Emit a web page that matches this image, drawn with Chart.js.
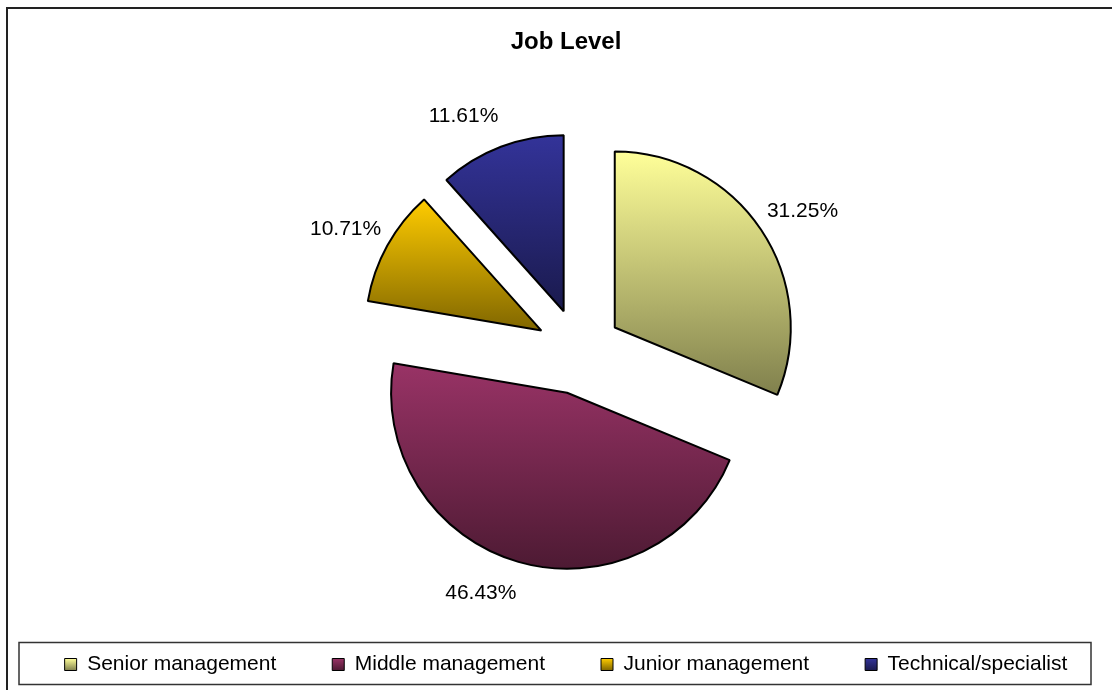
<!DOCTYPE html>
<html lang="en">
<head>
<meta charset="utf-8"/>
<title>Job Level</title>
<script src="https://cdn.jsdelivr.net/npm/chart.js"></script>
<style>
  html, body { margin: 0; padding: 0; background: #fff; }
  #wrap { position: relative; width: 1112px; height: 690px; }
</style>
</head>
<body>
<div id="wrap"><canvas id="jobChart"></canvas></div>
<script>
// shares of respondents by job level (%)
const LABELS = ['Senior management', 'Middle management', 'Junior management', 'Technical/specialist'];
const SHARES = [31.25, 46.43, 10.71, 11.61];
// each slice fades from its base colour at the top to a darker shade at the bottom
const TOP_COLORS = ['#FFFF99', '#993366', '#FFCC00', '#333399'];
const BOTTOM_COLORS = ['#80804D', '#4D1A33', '#806600', '#1A1A4D'];

const RADIUS = 176;          // pie radius in px
const EXPLODE = 43;          // how far every slice is pulled out
const LEGEND_GAP = 56;       // space between legend entries
const PLOT_INSET_LEFT = 40;  // pie sits a bit right of the page centre
const FONT = '"Liberation Sans", Arial, sans-serif';

Chart.defaults.font.family = FONT;
Chart.defaults.color = '#000';

// vertical extent of slice i once it has been exploded, used for its gradient
function sliceExtent(chart, i) {
  const area = chart.chartArea;
  const cx = (area.left + area.right) / 2;
  const cy = (area.top + area.bottom) / 2;
  const total = SHARES.reduce((a, b) => a + b, 0);
  let start = -Math.PI / 2;
  for (let k = 0; k < i; k++) start += 2 * Math.PI * SHARES[k] / total;
  const end = start + 2 * Math.PI * SHARES[i] / total;
  const mid = (start + end) / 2;
  const ey = cy + Math.sin(mid) * EXPLODE;
  const ys = [ey, ey + RADIUS * Math.sin(start), ey + RADIUS * Math.sin(end)];
  [Math.PI / 2, 3 * Math.PI / 2].forEach(a => {
    if (a > start && a < end) ys.push(ey + RADIUS * Math.sin(a));
  });
  return { top: Math.min(...ys), bottom: Math.max(...ys) };
}

function sliceFill(context) {
  const i = context.dataIndex;
  const chart = context.chart;
  if (i === undefined || !chart.chartArea) return TOP_COLORS[i || 0];
  const ext = sliceExtent(chart, i);
  const g = chart.ctx.createLinearGradient(0, ext.top, 0, ext.bottom);
  g.addColorStop(0, TOP_COLORS[i]);
  g.addColorStop(1, BOTTOM_COLORS[i]);
  return g;
}

// page frame and the box round the legend
const framePlugin = {
  id: 'frame',
  afterLayout(chart) {
    chart.chartArea.left += PLOT_INSET_LEFT;
    chart.chartArea.width -= PLOT_INSET_LEFT;
  },
  beforeDraw(chart) {
    const ctx = chart.ctx;
    ctx.save();
    ctx.strokeStyle = '#222';
    ctx.lineWidth = 2;
    ctx.strokeRect(7, 8, chart.width + 20, chart.height + 20);
    ctx.restore();

    // legend markers get a small gradient of their own
    const legend = chart.legend;
    legend.legendItems.forEach((item, i) => {
      const box = legend.legendHitBoxes[i];
      const y0 = box.top + (box.height - 12) / 2;
      const g = ctx.createLinearGradient(0, y0, 0, y0 + 12);
      g.addColorStop(0, TOP_COLORS[i]);
      g.addColorStop(1, BOTTOM_COLORS[i]);
      item.fillStyle = g;
    });
  },
  afterDraw(chart) {
    const ctx = chart.ctx;
    const legend = chart.legend;
    const box = legend.legendHitBoxes[0];
    const midY = box.top + box.height / 2;
    ctx.save();
    ctx.strokeStyle = '#333';
    ctx.lineWidth = 1.5;
    ctx.strokeRect(19, midY - 22, chart.width - 40, 42);
    ctx.restore();
  }
};

// pull every slice out from the centre along its bisector
const explodePlugin = {
  id: 'explode',
  afterDatasetsUpdate(chart) {
    chart.getDatasetMeta(0).data.forEach(arc => {
      const mid = (arc.startAngle + arc.endAngle) / 2;
      arc.x += Math.cos(mid) * EXPLODE;
      arc.y += Math.sin(mid) * EXPLODE;
    });
  }
};

// percentage labels outside each slice
const valueLabels = {
  id: 'valueLabels',
  afterDatasetsDraw(chart) {
    const ctx = chart.ctx;
    ctx.save();
    ctx.font = '21px ' + FONT;
    ctx.fillStyle = '#000';
    ctx.textBaseline = 'middle';
    chart.getDatasetMeta(0).data.forEach((arc, i) => {
      const mid = (arc.startAngle + arc.endAngle) / 2;
      const dx = Math.cos(mid), dy = Math.sin(mid);
      const r = arc.outerRadius;
      ctx.textAlign = dx >= 0 ? 'left' : 'right';
      ctx.fillText(SHARES[i].toFixed(2) + '%', arc.x + dx * (r + 7), arc.y + dy * (r + 33));
    });
    ctx.restore();
  }
};

new Chart(document.getElementById('jobChart'), {
  type: 'pie',
  data: {
    labels: LABELS,
    datasets: [{
      data: SHARES,
      backgroundColor: sliceFill,
      borderColor: '#000',
      borderWidth: 2
    }]
  },
  options: {
    responsive: true,
    maintainAspectRatio: false,
    animation: false,
    events: [],
    radius: RADIUS,
    // the legend row is allowed to run a little past the right edge so all four entries fit on one line
    layout: { padding: { top: 0, left: 6, right: -14, bottom: 5 } },
    plugins: {
      title: {
        display: true,
        text: 'Job Level',
        color: '#000',
        font: { size: 24, weight: 'bold' },
        padding: { top: 28, bottom: 48 }
      },
      legend: {
        position: 'bottom',
        labels: {
          boxWidth: 12,
          boxHeight: 12,
          padding: LEGEND_GAP,
          color: '#000',
          font: { size: 21 },
          generateLabels: () => LABELS.map((text, i) => ({
            text,
            fillStyle: TOP_COLORS[i],
            strokeStyle: '#000',
            lineWidth: 1,
            hidden: false,
            index: i
          }))
        }
      },
      tooltip: { enabled: false }
    }
  },
  plugins: [framePlugin, explodePlugin, valueLabels]
});
</script>
</body>
</html>
